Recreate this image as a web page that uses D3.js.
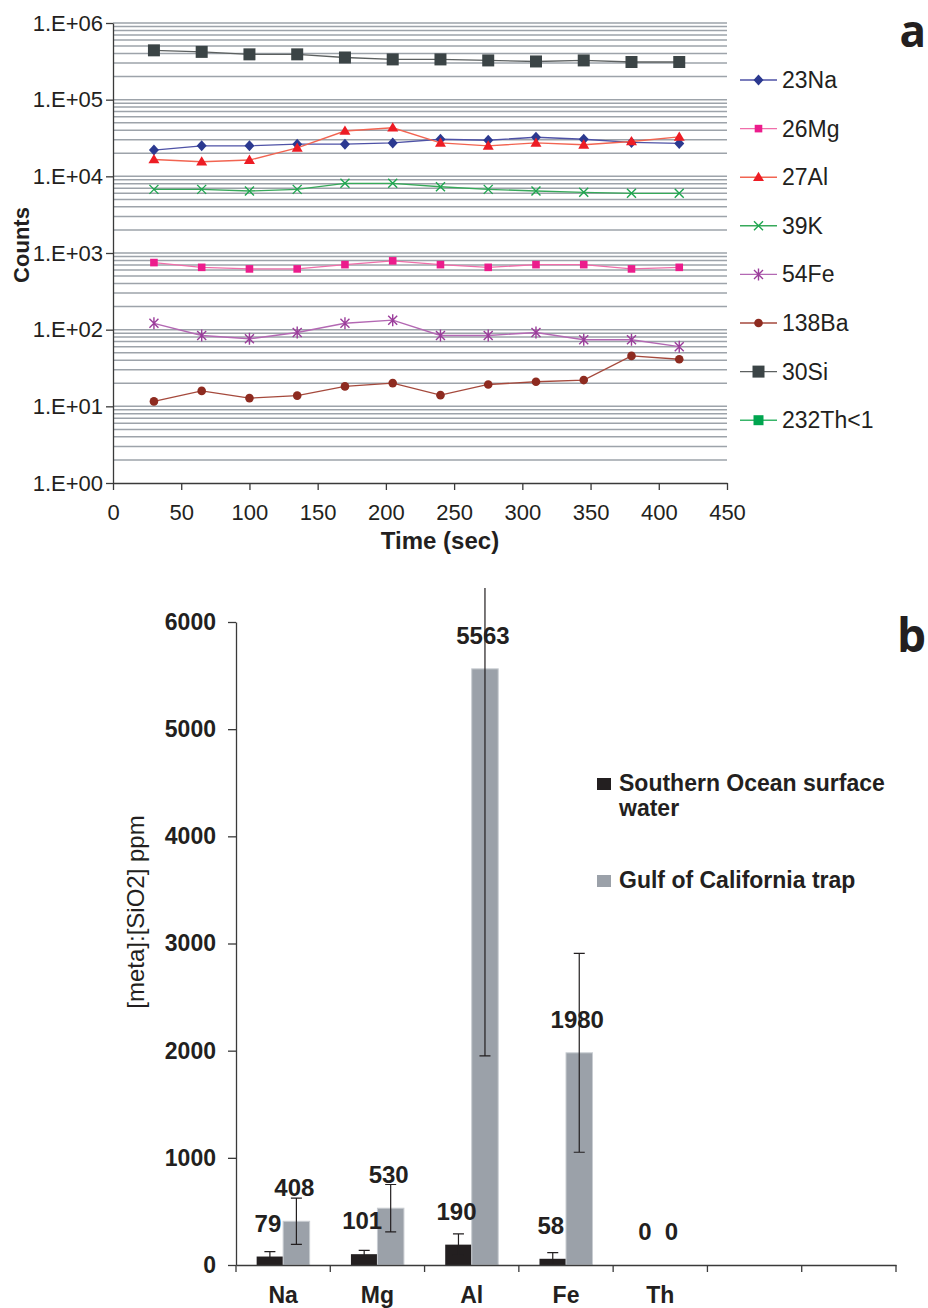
<!DOCTYPE html>
<html>
<head>
<meta charset="utf-8">
<script src="https://cdn.jsdelivr.net/npm/d3@7"></script>
<style>
	body { margin: 0; background: #fff; }
	svg { display: block; font-family: "Liberation Sans", Arial, sans-serif; }
</style>
</head>
<body>
<svg id="chart" width="928" height="1308"></svg>
<script>
// panel a - counts per isotope over time (log scale)
var times = [30, 65, 100, 135, 170, 205, 240, 275, 310, 345, 380, 415];
var na23 = [22000, 25000, 25000, 26300, 26300, 27300, 30500, 29600, 32400, 30500, 27700, 26900];
var mg26 = [750, 650, 620, 620, 705, 790, 705, 650, 705, 705, 620, 650];
var al27 = [16600, 15500, 16300, 23500, 39000, 43000, 27300, 25000, 27300, 25800, 28500, 32700];
var k39 = [6760, 6760, 6430, 6760, 8100, 8100, 7300, 6760, 6430, 6180, 6000, 6000];
var fe54 = [121, 84, 76, 92, 121, 133, 84, 84, 92, 74, 74, 60];
var ba138 = [11.6, 15.9, 12.8, 13.8, 18.2, 20.1, 14, 19.3, 20.9, 22, 45.5, 41.2];
var si30 = [440000, 420000, 390000, 390000, 355000, 335000, 335000, 325000, 315000, 325000, 310000, 310000];
var th232 = []; // below 1 count, only in the legend
var isotopeNames = ['23Na', '26Mg', '27Al', '39K', '54Fe', '138Ba', '30Si', '232Th<1'];
var timeTicks = [0, 50, 100, 150, 200, 250, 300, 350, 400, 450];
var countTicks = [1, 10, 100, 1000, 10000, 100000, 1000000];

// panel b - metal to silica ratios
var elements = ['Na', 'Mg', 'Al', 'Fe', 'Th', '', ''];
var southernOcean = [79, 101, 190, 58, 0];
var southernOceanErr = [45, 36, 100, 57, 0];
var gulfTrap = [408, 530, 5563, 1980, 0];
var gulfTrapErr = [216, 221, 3611, 928, 0];
var ratioTicks = [0, 1000, 2000, 3000, 4000, 5000, 6000];
var legendLines = [['Southern Ocean surface', 'water'], ['Gulf of California trap']];

var textColor = '#231f20';

// marker + line style per isotope
var styles = {
	'23Na':   { marker: '#2b3990', line: '#4e52a6', shape: 'diamond', size: 5 },
	'26Mg':   { marker: '#ec1c8c', line: '#f06eaa', shape: 'square', size: 3.8 },
	'27Al':   { marker: '#ed1c24', line: '#f26451', shape: 'triangle', size: 5.5 },
	'39K':    { marker: '#1fa650', line: '#37a95a', shape: 'x', size: 4.5 },
	'54Fe':   { marker: '#9b3d9b', line: '#b368b3', shape: 'asterisk', size: 5 },
	'138Ba':  { marker: '#8e2b20', line: '#a5493c', shape: 'circle', size: 4.3 },
	'30Si':   { marker: '#3b4446', line: '#5c6060', shape: 'square', size: 6 },
	'232Th<1': { marker: '#00a54f', line: '#39b56a', shape: 'square', size: 5 }
};
var seriesData = [na23, mg26, al27, k39, fe54, ba138, si30, th232];

var svg = d3.select('#chart');

function markerPath(shape, s) {
	switch (shape) {
		case 'diamond': return 'M0,' + (-s * 1.1) + 'L' + s + ',0L0,' + (s * 1.1) + 'L' + (-s) + ',0Z';
		case 'square': return 'M' + (-s) + ',' + (-s) + 'h' + (2 * s) + 'v' + (2 * s) + 'h' + (-2 * s) + 'Z';
		case 'triangle': return 'M0,' + (-s) + 'L' + s + ',' + (s * 0.7) + 'L' + (-s) + ',' + (s * 0.7) + 'Z';
		case 'x': return 'M' + (-s) + ',' + (-s) + 'L' + s + ',' + s + 'M' + s + ',' + (-s) + 'L' + (-s) + ',' + s;
		case 'asterisk': return 'M' + (-s * 0.9) + ',' + (-s * 0.9) + 'L' + (s * 0.9) + ',' + (s * 0.9) +
			'M' + (s * 0.9) + ',' + (-s * 0.9) + 'L' + (-s * 0.9) + ',' + (s * 0.9) +
			'M0,' + (-s * 1.2) + 'L0,' + (s * 1.2);
		case 'circle': return 'M' + (-s) + ',0A' + s + ',' + s + ' 0 1,0 ' + s + ',0A' + s + ',' + s + ' 0 1,0 ' + (-s) + ',0Z';
	}
}

function drawMarker(g, st, x, y) {
	var stroked = st.shape === 'x' || st.shape === 'asterisk';
	g.append('path')
		.attr('transform', 'translate(' + x + ',' + y + ')')
		.attr('d', markerPath(st.shape, st.size))
		.attr('fill', stroked ? 'none' : st.marker)
		.attr('stroke', stroked ? st.marker : 'none')
		.attr('stroke-width', 1.4);
}

// d3 axes set their own font on the group, drop it so the svg font applies
function styleAxis(ax, size, bold) {
	ax.attr('font-family', null).attr('font-size', null);
	ax.selectAll('path, line').attr('stroke', '#3a3a3a').attr('stroke-width', 1.3);
	ax.selectAll('text')
		.attr('font-size', size)
		.attr('font-weight', bold ? 'bold' : null)
		.attr('fill', textColor);
}

// ---------- panel a ----------
var xA = d3.scaleLinear().domain([0, 450]).range([113, 727]);
var yA = d3.scaleLog().domain([1, 1e6]).range([483, 23]);

// major + minor gridlines
var gridValues = [];
for (var d = 0; d < 6; d++) {
	for (var k = 1; k < 10; k++) {
		if (d === 0 && k === 1) continue;
		gridValues.push(k * Math.pow(10, d));
	}
}
gridValues.push(1e6);

svg.append('g').selectAll('line')
	.data(gridValues)
	.enter()
	.append('line')
	.attr('x1', xA(0)).attr('x2', xA(450))
	.attr('y1', function(v) { return yA(v); })
	.attr('y2', function(v) { return yA(v); })
	.attr('stroke', '#9da3aa')
	.attr('stroke-width', 1.5);

var axA = svg.append('g').attr('transform', 'translate(' + xA(0) + ',0)')
	.call(d3.axisLeft(yA).tickValues(countTicks).tickSize(7).tickSizeOuter(0).tickPadding(3)
		.tickFormat(function(v) { return '1.E+' + d3.format('02d')(Math.round(Math.log10(v))); }));
styleAxis(axA, 22, false);

var axAx = svg.append('g').attr('transform', 'translate(0,' + yA(1) + ')')
	.call(d3.axisBottom(xA).tickValues(timeTicks).tickSize(7).tickSizeOuter(0).tickPadding(14));
styleAxis(axAx, 22, false);

var line = d3.line()
	.x(function(v, i) { return xA(times[i]); })
	.y(function(v) { return yA(v); });

seriesData.forEach(function(vals, si) {
	var st = styles[isotopeNames[si]];
	if (!vals.length) return;
	svg.append('path')
		.attr('d', line(vals))
		.attr('fill', 'none')
		.attr('stroke', st.line)
		.attr('stroke-width', 1.4);
	var g = svg.append('g');
	vals.forEach(function(v, i) { drawMarker(g, st, xA(times[i]), yA(v)); });
});

// legend a
var legA = svg.append('g');
isotopeNames.forEach(function(name, i) {
	var st = styles[name],
		y = 80 + i * 48.6;
	legA.append('line')
		.attr('x1', 740).attr('x2', 777)
		.attr('y1', y).attr('y2', y)
		.attr('stroke', st.line).attr('stroke-width', 1.4);
	drawMarker(legA, st, 758.5, y);
	legA.append('text')
		.attr('x', 782).attr('y', y + 8)
		.attr('font-size', 23).attr('fill', textColor)
		.text(name);
});

svg.append('text')
	.attr('x', 440).attr('y', 549)
	.attr('text-anchor', 'middle')
	.attr('font-size', 24).attr('font-weight', 'bold').attr('fill', textColor)
	.text('Time (sec)');

svg.append('text')
	.attr('transform', 'translate(29,245) rotate(-90)')
	.attr('text-anchor', 'middle')
	.attr('font-size', 22).attr('font-weight', 'bold').attr('fill', textColor)
	.text('Counts');

svg.append('text')
	.attr('x', 926).attr('y', 47)
	.attr('text-anchor', 'end')
	.attr('font-family', '"Open Sans", sans-serif')
	.attr('font-size', 44).attr('font-weight', 'bold').attr('fill', textColor)
	.text('a');

// ---------- panel b ----------
var xB = d3.scaleBand().domain(d3.range(elements.length)).range([236, 896]).padding(0);
var yB = d3.scaleLinear().domain([0, 6000]).range([1265, 622]);
var half = 26.5;
var xSub = d3.scaleBand().domain([0, 1])
	.range([xB.bandwidth() / 2 - half, xB.bandwidth() / 2 + half]);

var barSeries = [
	{ vals: southernOcean, err: southernOceanErr, fill: '#231f20', stroke: 'none' },
	{ vals: gulfTrap, err: gulfTrapErr, fill: '#9ba1a9', stroke: '#c9cdd2' }
];

barSeries.forEach(function(s, si) {
	svg.append('g').selectAll('rect')
		.data(s.vals)
		.enter()
		.append('rect')
		.attr('x', function(v, i) { return xB(i) + xSub(si); })
		.attr('width', xSub.bandwidth())
		.attr('y', function(v) { return yB(v); })
		.attr('height', function(v) { return yB(0) - yB(v); })
		.attr('fill', s.fill)
		.attr('stroke', s.stroke)
		.attr('stroke-width', 1);
});

svg.append('clipPath').attr('id', 'clip-b')
	.append('rect').attr('x', 230).attr('y', 588).attr('width', 680).attr('height', 700);

var errG = svg.append('g').attr('clip-path', 'url(#clip-b)');
barSeries.forEach(function(s, si) {
	s.vals.forEach(function(v, i) {
		if (!s.err[i]) return;
		var cx = xB(i) + xSub(si) + xSub.bandwidth() / 2,
			y1 = yB(v + s.err[i]),
			y2 = yB(v - s.err[i]);
		errG.append('path')
			.attr('d', 'M' + cx + ',' + y1 + 'V' + y2 +
				'M' + (cx - 5.5) + ',' + y1 + 'h11' +
				'M' + (cx - 5.5) + ',' + y2 + 'h11')
			.attr('fill', 'none')
			.attr('stroke', '#231f20')
			.attr('stroke-width', 1.2);
	});
});

// value labels
barSeries.forEach(function(s, si) {
	svg.append('g').selectAll('text')
		.data(s.vals)
		.enter()
		.append('text')
		.attr('x', function(v, i) { return xB(i) + xSub(si) + xSub.bandwidth() / 2 - 2; })
		.attr('y', function(v) { return yB(v) - 25; })
		.attr('text-anchor', 'middle')
		.attr('font-size', 24).attr('font-weight', 'bold').attr('fill', textColor)
		.text(function(v) { return v; });
});

var axB = svg.append('g').attr('transform', 'translate(236,0)')
	.call(d3.axisLeft(yB).tickValues(ratioTicks).tickSize(8).tickSizeOuter(0).tickPadding(12)
		.tickFormat(d3.format('d')));
styleAxis(axB, 23, true);

var axBx = svg.append('g').attr('transform', 'translate(0,' + yB(0) + ')')
	.call(d3.axisBottom(xB).tickSize(0).tickSizeOuter(0).tickPadding(22)
		.tickFormat(function(i) { return elements[i]; }));
axBx.selectAll('.boundary')
	.data(d3.range(elements.length + 1))
	.enter()
	.append('line')
	.attr('class', 'boundary')
	.attr('x1', function(i) { return i < elements.length ? xB(i) : xB.range()[1]; })
	.attr('x2', function(i) { return i < elements.length ? xB(i) : xB.range()[1]; })
	.attr('y1', 0).attr('y2', 7);
styleAxis(axBx, 23, true);

// legend b
var legB = svg.append('g');
barSeries.forEach(function(s, i) {
	var y = i === 0 ? 778 : 875;
	legB.append('rect')
		.attr('x', 597).attr('y', y)
		.attr('width', 14).attr('height', 12)
		.attr('fill', s.fill);
	legendLines[i].forEach(function(txt, j) {
		legB.append('text')
			.attr('x', 619).attr('y', y + 13 + j * 25)
			.attr('font-size', 23).attr('font-weight', 'bold').attr('fill', textColor)
			.text(txt);
	});
});

svg.append('text')
	.attr('transform', 'translate(144,912) rotate(-90)')
	.attr('text-anchor', 'middle')
	.attr('font-size', 24).attr('fill', textColor)
	.text('[meta]:[SiO2] ppm');

svg.append('text')
	.attr('x', 926).attr('y', 652)
	.attr('text-anchor', 'end')
	.attr('font-family', '"Open Sans", sans-serif')
	.attr('font-size', 46).attr('font-weight', 'bold').attr('fill', textColor)
	.text('b');
</script>
</body>
</html>
